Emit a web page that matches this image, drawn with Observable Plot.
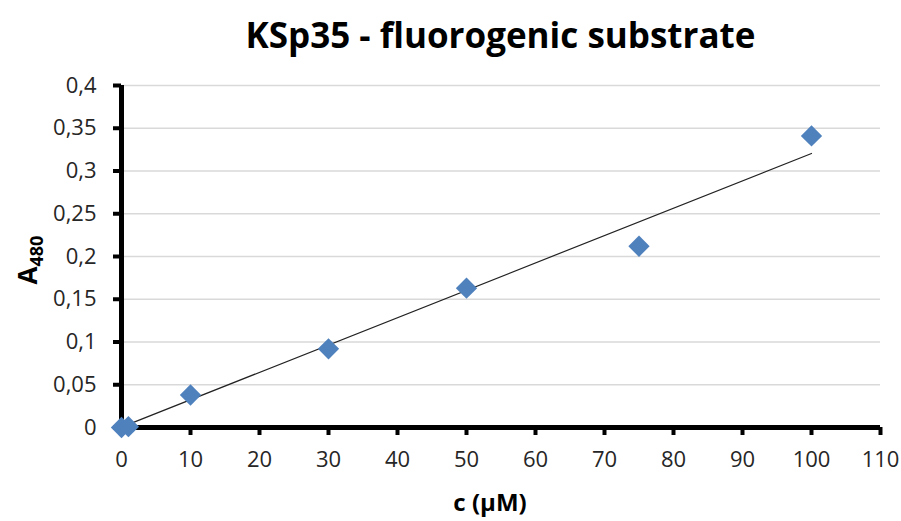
<!DOCTYPE html>
<html>
<head>
<meta charset="utf-8">
<script src="https://cdn.jsdelivr.net/npm/d3@7"></script>
<script src="https://cdn.jsdelivr.net/npm/@observablehq/plot@0.6"></script>
<style>
  html, body { margin: 0; padding: 0; background: #fff; }
  #title {
    box-sizing: border-box;
    width: 901px; height: 70px;
    padding-left: 121px; padding-right: 21px;
    text-align: center;
    font-family: "Open Sans", sans-serif;
    font-weight: bold; font-size: 35px;
    line-height: 70px;
    color: #000;
  }
</style>
</head>
<body>
<div id="title">KSp35 - fluorogenic substrate</div>
<div id="chart"></div>
<script>
const concentrations = [0, 1, 10, 30, 50, 75, 100];
const absorbance = [0, 0.001, 0.038, 0.092, 0.163, 0.212, 0.341];
const trendX = [0, 100];
const trendY = [0.0005, 0.3205];
const xTicks = [0, 10, 20, 30, 40, 50, 60, 70, 80, 90, 100, 110];
const yTicks = [0, 0.05, 0.1, 0.15, 0.2, 0.25, 0.3, 0.35, 0.4];

const points = concentrations.map((c, i) => ({c, a: absorbance[i]}));
const trend = trendX.map((c, i) => ({c, a: trendY[i]}));
const fmt = d => String(d).replace(".", ",");

const chart = Plot.plot({
  width: 901,
  height: 451,
  marginLeft: 121,
  marginRight: 21,
  marginTop: 15,
  marginBottom: 94,
  style: {fontFamily: "Open Sans, sans-serif", fontSize: "22px", color: "#262626", background: "#fff"},
  x: {domain: [0, 110], ticks: xTicks},
  y: {domain: [0, 0.4], ticks: yTicks},
  marks: [
    Plot.gridY(yTicks, {stroke: "#d9d9d9", strokeOpacity: 1, strokeWidth: 1.5}),
    Plot.axisY(yTicks, {tickSize: 8, strokeWidth: 4, stroke: "#000", tickPadding: 17, tickFormat: fmt, label: null, fontSize: 22}),
    Plot.axisX(xTicks, {tickSize: 8, strokeWidth: 4, stroke: "#000", tickPadding: 16, tickFormat: fmt, label: null, fontSize: 22}),
    Plot.ruleX([0], {y1: 0, y2: 0.4, stroke: "#000", strokeWidth: 5}),
    Plot.ruleY([0], {x1: 0, x2: 110, stroke: "#000", strokeWidth: 5}),
    Plot.line(trend, {x: "c", y: "a", stroke: "#222", strokeWidth: 1.2}),
    Plot.dot(points, {x: "c", y: "a", symbol: "diamond2", r: 9.6, fill: "#4f81bd", stroke: "none"})
  ]
});
document.getElementById("chart").appendChild(chart);

const svg = d3.select(chart);
svg.selectAll('g[aria-label="x-axis tick"], g[aria-label="y-axis tick"]')
  .attr("stroke-width", 4).attr("stroke", "#000");
svg.selectAll('g[aria-label="rule"]').attr("stroke-width", 5).attr("stroke", "#000");

// y-axis label with subscript
const yl = svg.append("text")
  .attr("transform", "translate(37,190) rotate(-90)")
  .attr("text-anchor", "middle")
  .attr("font-family", "Open Sans, sans-serif")
  .attr("font-weight", "bold")
  .attr("font-size", 26)
  .attr("fill", "#000");
yl.append("tspan").text("A");
yl.append("tspan").attr("font-size", 18).attr("dy", 6).text("480");
// x-axis label
svg.append("text")
  .attr("x", 490).attr("y", 441)
  .attr("text-anchor", "middle")
  .attr("font-family", "Open Sans, sans-serif")
  .attr("font-weight", "bold")
  .attr("font-size", 24)
  .attr("fill", "#000")
  .text("c (µM)");
</script>
</body>
</html>
